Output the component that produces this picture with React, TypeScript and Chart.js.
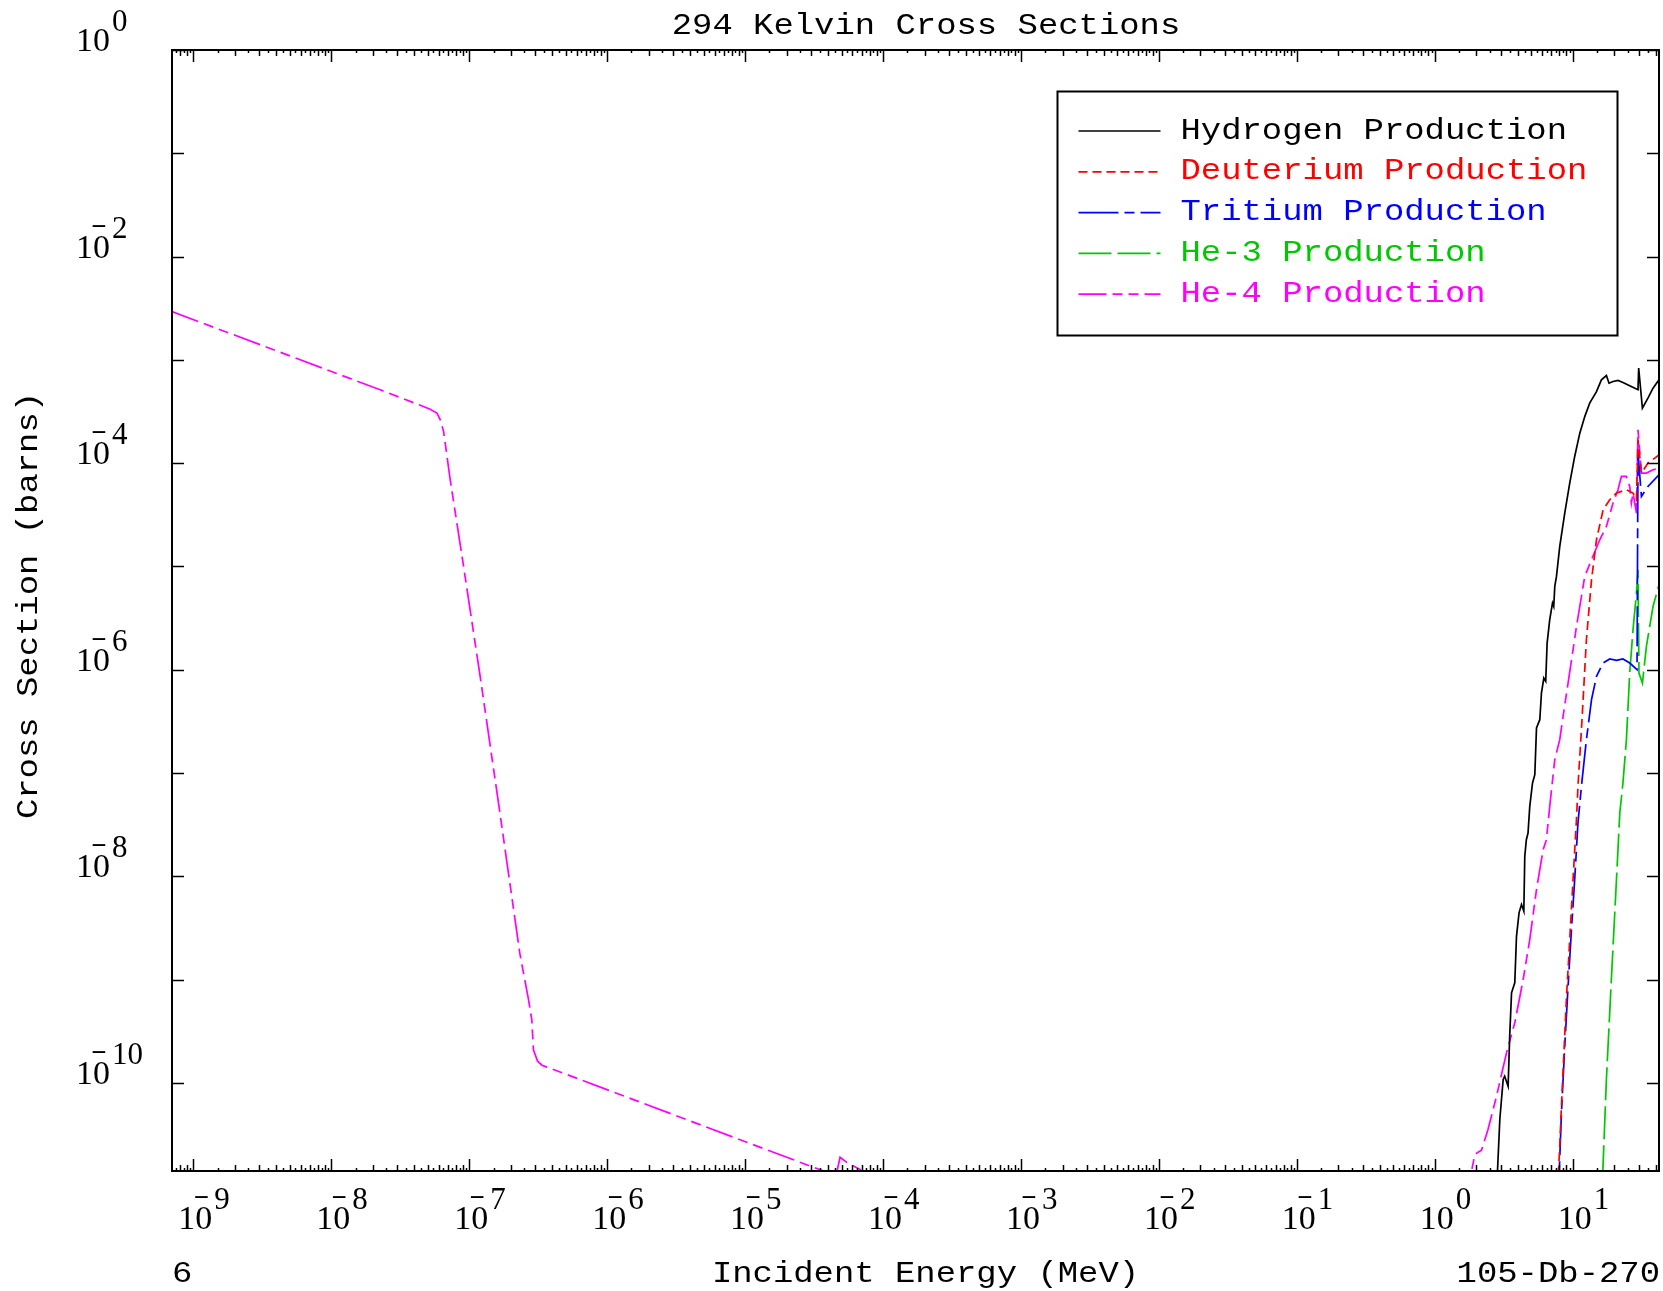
import { useEffect, useRef } from 'react';
import { Chart, registerables } from 'chart.js';

Chart.register(...registerables);

const CANVAS_W = 1663;
const CANVAS_H = 1291;

// Axis ranges (MeV, barns)
const X_MIN = 7.08e-10;
const X_MAX = 42.2;
const Y_MIN = 1.4e-11;
const Y_MAX = 1;

// Tick labels
const xLabelExponents = [-9, -8, -7, -6, -5, -4, -3, -2, -1, 0, 1];
const yLabelExponents = [0, -2, -4, -6, -8, -10];
const yTickExponents = [0, -1, -2, -3, -4, -5, -6, -7, -8, -9, -10];

const titleText = '294 Kelvin Cross Sections';
const xTitleText = 'Incident Energy (MeV)';
const yTitleText = 'Cross Section (barns)';
const leftFootText = '6';
const rightFootText = '105-Db-270';

// Hydrogen production
const hydrogenEnergy = [2.75, 2.96, 3.13, 3.21, 3.40, 3.49, 3.60, 3.80, 3.91, 4.08, 4.25, 4.42, 4.49, 4.61, 4.74, 4.88, 5.11, 5.31, 5.46, 5.77, 5.93, 6.17, 6.37, 6.52, 6.81, 7.13, 7.28, 7.41, 7.62, 8.05, 8.75, 9.51, 10.33, 11.25, 12.22, 13.27, 14.86, 16.14, 17.54, 18.32, 19.59, 21.28, 23.12, 25.88, 29.72, 30.06, 31.99, 35.08, 38.19, 42.17];
const hydrogenXs = [5e-12, 4.42e-11, 1.08e-10, 1.16e-10, 9.27e-11, 2.82e-10, 7.43e-10, 9.29e-10, 2.62e-9, 4.42e-9, 5.32e-9, 4.58e-9, 1.56e-8, 2.26e-8, 2.62e-8, 4.75e-8, 8.0e-8, 9.64e-8, 2.73e-7, 3.28e-7, 5.94e-7, 8.30e-7, 7.71e-7, 1.81e-6, 3.05e-6, 4.42e-6, 4.09e-6, 6.40e-6, 8.0e-6, 1.56e-5, 3.28e-5, 6.41e-5, 1.16e-4, 1.95e-4, 2.82e-4, 3.81e-4, 4.93e-4, 6.40e-4, 7.05e-4, 5.94e-4, 6.17e-4, 6.31e-4, 6.03e-4, 5.60e-4, 5.13e-4, 8.32e-4, 3.40e-4, 4.26e-4, 5.32e-4, 6.40e-4];

// Deuterium production
const deuteriumEnergy = [7.59, 8.05, 8.28, 8.61, 8.99, 9.51, 10.05, 10.64, 10.91, 11.56, 12.56, 13.68, 14.86, 16.60, 18.54, 20.75, 24.49, 27.35, 28.97, 29.72, 31.48, 35.08, 42.17];
const deuteriumXs = [5e-12, 2.44e-11, 5.94e-11, 1.81e-10, 6.40e-10, 2.44e-9, 9.29e-9, 3.53e-8, 7.43e-8, 2.62e-7, 1.95e-6, 7.43e-6, 1.81e-5, 3.53e-5, 4.42e-5, 5.13e-5, 5.52e-5, 5.13e-5, 4.42e-5, 1.68e-4, 8.0e-5, 1.0e-4, 1.20e-4];

// Tritium production
const tritiumEnergy = [7.76, 8.28, 8.75, 9.25, 9.79, 10.33, 10.91, 11.56, 12.56, 13.68, 14.86, 16.60, 18.54, 20.75, 23.12, 25.88, 29.24, 29.72, 31.48, 35.08, 42.17];
const tritiumXs = [5e-12, 5.13e-11, 2.26e-10, 8.61e-10, 3.05e-9, 9.29e-9, 3.28e-8, 7.43e-8, 2.10e-7, 5.13e-7, 8.61e-7, 1.16e-6, 1.27e-6, 1.23e-6, 1.27e-6, 1.16e-6, 1.0e-6, 1.25e-4, 4.75e-5, 5.94e-5, 7.71e-5];

// He-3 production
const he3Energy = [16.03, 17.54, 19.05, 20.75, 21.93, 23.12, 24.49, 25.88, 27.35, 28.97, 29.72, 30.20, 31.99, 34.20, 38.19, 42.17];
const he3Xs = [5e-12, 1.08e-10, 1.0e-9, 9.29e-9, 4.10e-8, 8.0e-8, 2.10e-7, 9.29e-7, 2.44e-6, 5.52e-6, 9.29e-6, 9.29e-7, 7.43e-7, 1.68e-6, 4.09e-6, 6.64e-6];

// He-4 production
const he4Energy = [7.0e-10, 2.26e-8, 5.21e-8, 5.83e-8, 6.17e-8, 6.52e-8, 7.28e-8, 9.10e-8, 1.20e-7, 1.64e-7, 2.33e-7, 2.69e-7, 2.84e-7, 2.92e-7, 3.13e-7, 3.37e-7, 3.66e-7, 3.69e-5, 3.98e-5, 4.37e-5, 4.52e-5, 4.88e-5, 5.62e-5, 7.19e-5, 8.91e-5, 1.0e-3, 1.70, 1.95, 2.06, 2.18, 2.43, 2.80, 3.31, 3.80, 4.37, 4.88, 5.46, 6.10, 6.44, 6.81, 7.41, 8.05, 8.51, 9.25, 10.05, 10.64, 11.56, 12.22, 13.68, 15.70, 17.54, 19.59, 21.28, 22.54, 24.49, 25.88, 26.61, 27.35, 28.97, 29.72, 31.48, 34.20, 38.19, 42.17];
const he4Xs = [2.93e-3, 5.13e-4, 3.33e-4, 3.05e-4, 2.62e-4, 2.02e-4, 6.90e-5, 1.0e-5, 8.61e-7, 4.83e-8, 1.77e-9, 6.40e-10, 4.10e-10, 2.09e-10, 1.62e-10, 1.48e-10, 1.42e-10, 1.40e-11, 1.20e-11, 6.0e-12, 1.20e-11, 1.90e-11, 1.65e-11, 1.40e-11, 1.20e-11, 3.0e-12, 8.0e-12, 2.02e-11, 2.13e-11, 2.23e-11, 3.53e-11, 7.41e-11, 1.95e-10, 3.81e-10, 1.0e-9, 2.44e-9, 7.43e-9, 1.81e-8, 2.26e-8, 4.75e-8, 1.35e-7, 2.10e-7, 3.53e-7, 7.43e-7, 1.56e-6, 2.62e-6, 5.12e-6, 8.0e-6, 1.16e-5, 1.81e-5, 2.44e-5, 4.10e-5, 5.52e-5, 7.43e-5, 7.43e-5, 5.94e-5, 4.10e-5, 5.13e-5, 3.28e-5, 2.10e-4, 8.0e-5, 8.0e-5, 8.61e-5, 8.95e-5];

const seriesLabels = ['Hydrogen Production', 'Deuterium Production', 'Tritium Production', 'He-3 Production', 'He-4 Production'];
const seriesColors = ['#000000', '#ff0000', '#0000ff', '#00c800', '#ff00ff'];
const seriesDashes: number[][] = [[], [9, 5], [40, 6, 10, 6], [33, 6], [28, 6, 10, 6, 10, 6]];
const seriesEnergy = [hydrogenEnergy, deuteriumEnergy, tritiumEnergy, he3Energy, he4Energy];
const seriesXs = [hydrogenXs, deuteriumXs, tritiumXs, he3Xs, he4Xs];

const MONO = '"Liberation Mono", "DejaVu Sans Mono", monospace';
const SERIF = '"Liberation Serif", "DejaVu Serif", serif';
const MONO_SCALE = 1.13;

function monoText(ctx: CanvasRenderingContext2D, text: string, x: number, y: number, align: CanvasTextAlign, color: string, rotate = false) {
  ctx.save();
  ctx.translate(x, y);
  if (rotate) ctx.rotate(-Math.PI / 2);
  ctx.scale(MONO_SCALE, 1);
  ctx.font = `30px ${MONO}`;
  ctx.fillStyle = color;
  ctx.textAlign = align;
  ctx.textBaseline = 'alphabetic';
  ctx.fillText(text, 0, 0);
  ctx.restore();
}

function seg(ctx: CanvasRenderingContext2D, x1: number, y1: number, x2: number, y2: number) {
  ctx.beginPath();
  ctx.moveTo(x1, y1);
  ctx.lineTo(x2, y2);
  ctx.stroke();
}

// "10" with a superscript exponent; the minus of a negative exponent sits over the "0"
function powerLabel(ctx: CanvasRenderingContext2D, e: number, baseRight: number, baseline: number) {
  ctx.fillStyle = '#000';
  ctx.textBaseline = 'alphabetic';
  ctx.font = `34px ${SERIF}`;
  ctx.textAlign = 'right';
  ctx.fillText('10', baseRight, baseline);
  ctx.font = `31px ${SERIF}`;
  ctx.textAlign = 'left';
  ctx.fillText(String(Math.abs(e)), baseRight + 2, baseline - 20);
  if (e < 0) {
    ctx.font = `bold 27px ${SERIF}`;
    ctx.textAlign = 'center';
    ctx.fillText('\u2212', baseRight - 11, baseline - 23);
  }
}

const framePlugin = {
  id: 'endfFrame',
  afterDraw(chart: any) {
    const ctx: CanvasRenderingContext2D = chart.ctx;
    const { left, right, top, bottom } = chart.chartArea;
    const xs = chart.scales.x;
    const ys = chart.scales.y;
    ctx.save();
    ctx.strokeStyle = '#000';
    ctx.setLineDash([]);
    ctx.lineWidth = 2;
    ctx.strokeRect(left, top, right - left, bottom - top);

    // x ticks (bottom and top, inward)
    ctx.lineWidth = 1.5;
    for (let d = -10; d <= 1; d++) {
      for (let m = 1; m < 10; m += 0.5) {
        const v = m * Math.pow(10, d);
        if (v < X_MIN || v > X_MAX) continue;
        const px = Math.round(xs.getPixelForValue(v)) + 0.5;
        const len = m === 1 ? 12 : Number.isInteger(m) ? 6 : 3;
        seg(ctx, px, bottom, px, bottom - len);
        seg(ctx, px, top, px, top + len);
      }
    }
    // y ticks (left and right, inward)
    for (const e of yTickExponents) {
      const py = Math.round(ys.getPixelForValue(Math.pow(10, e))) + 0.5;
      seg(ctx, left, py, left + 12, py);
      seg(ctx, right, py, right - 12, py);
    }

    // tick labels
    for (const e of yLabelExponents) {
      const py = ys.getPixelForValue(Math.pow(10, e));
      powerLabel(ctx, e, 110, py + 1);
    }
    for (const e of xLabelExponents) {
      const px = xs.getPixelForValue(Math.pow(10, e));
      powerLabel(ctx, e, px + 19, 1229);
    }

    // titles and footers
    monoText(ctx, titleText, 926, 34, 'center', '#000');
    monoText(ctx, xTitleText, 925.5, 1282, 'center', '#000');
    monoText(ctx, yTitleText, 37, 605.5, 'center', '#000', true);
    monoText(ctx, leftFootText, 172, 1282, 'left', '#000');
    monoText(ctx, rightFootText, 1660, 1282, 'right', '#000');

    // legend
    ctx.fillStyle = '#fff';
    ctx.fillRect(1057.5, 91.5, 560, 244);
    ctx.strokeStyle = '#000';
    ctx.lineWidth = 2;
    ctx.strokeRect(1057.5, 91.5, 560, 244);
    chart.data.datasets.forEach((ds: any, i: number) => {
      const yb = 138.5 + i * 40.8;
      ctx.strokeStyle = ds.borderColor;
      ctx.lineWidth = ds.borderWidth;
      ctx.setLineDash(ds.borderDash || []);
      seg(ctx, 1078.5, yb - 7.5, 1160.5, yb - 7.5);
      ctx.setLineDash([]);
      monoText(ctx, ds.label, 1180.5, yb, 'left', ds.borderColor);
    });
    ctx.restore();
  },
};

export default function App() {
  const canvasRef = useRef<HTMLCanvasElement | null>(null);

  useEffect(() => {
    const canvas = canvasRef.current;
    if (!canvas) return;
    const datasets = seriesLabels.map((label, i) => ({
      label,
      data: seriesEnergy[i].map((x, j) => ({ x, y: seriesXs[i][j] })),
      borderColor: seriesColors[i],
      backgroundColor: seriesColors[i],
      borderWidth: 1.7,
      borderDash: seriesDashes[i],
      pointRadius: 0,
      tension: 0,
      fill: false,
    }));
    const chart = new Chart(canvas, {
      type: 'line',
      data: { datasets },
      options: {
        animation: false,
        responsive: false,
        devicePixelRatio: 1,
        layout: { padding: { left: 172, top: 50, right: CANVAS_W - 1659, bottom: CANVAS_H - 1171 } },
        plugins: { legend: { display: false }, title: { display: false }, tooltip: { enabled: false } },
        scales: {
          x: { type: 'logarithmic', min: X_MIN, max: X_MAX, display: false },
          y: { type: 'logarithmic', min: Y_MIN, max: Y_MAX, display: false },
        },
      },
      plugins: [framePlugin],
    } as any);
    return () => chart.destroy();
  }, []);

  return (
    <div style={{ position: 'absolute', left: 0, top: 0, width: CANVAS_W, height: CANVAS_H, background: '#fff' }}>
      <canvas ref={canvasRef} width={CANVAS_W} height={CANVAS_H} style={{ width: CANVAS_W, height: CANVAS_H, display: 'block' }} />
    </div>
  );
}
